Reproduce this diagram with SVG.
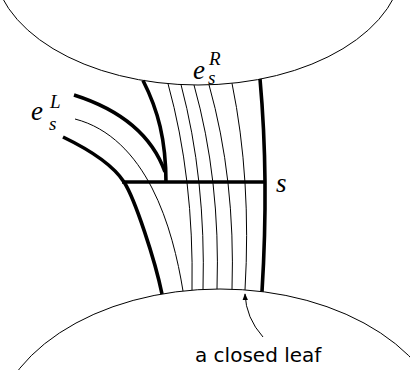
<svg xmlns="http://www.w3.org/2000/svg" width="410" height="370" viewBox="0 0 410 370">
<style>
.bd{fill:none;stroke:#000;stroke-width:1}
.thick{fill:none;stroke:#000;stroke-width:3.6;stroke-linecap:butt}
.thin{fill:none;stroke:#000;stroke-width:1}
.math{font-family:"Liberation Serif","DejaVu Serif",serif;font-style:italic;fill:#000}
.lbl{font-family:"DejaVu Sans","Liberation Sans",sans-serif;fill:#000}
</style>
<defs>
<marker id="ah" viewBox="0 0 10 10" refX="9" refY="5" markerWidth="7" markerHeight="7" markerUnits="userSpaceOnUse" orient="auto">
<path d="M0,1 L10,5 L0,9 Z" fill="#000"/>
</marker>
</defs>
<rect width="410" height="370" fill="#fff"/>
<g id="top-region">
<ellipse class="bd" cx="198" cy="-39" rx="205" ry="124"/>
</g>
<g id="bottom-region">
<ellipse class="bd" cx="220" cy="439" rx="227" ry="150"/>
</g>
<g id="connectors">
<path class="thin" d="M168,83.7 Q194,178 192,290"/>
<path class="thin" d="M181,84.6 Q206,179 203,289.6"/>
<path class="thin" d="M194,85 Q220.5,179.5 217,289"/>
<path class="thin" d="M209,84.8 Q235.5,179 232,289.2"/>
<path class="thin" d="M232,83.3 Q251.5,179 245,289.9"/>
<path class="thin" d="M75,119 C110,128 135,155 152,188 S178,260 183,291"/>
<path class="thick" d="M143,80.5 C158,110 166,140 166,183"/>
<path class="thick" d="M74,95 C115,108 150,130 165,172"/>
<path class="thick" d="M63,137 C90,150 113,165 124,182 S155,260 162,294"/>
<path class="thick" d="M260,78.8 Q269,178.5 262,291.6"/>
<path class="thick" d="M122,182 L264,182"/>
<path class="thin" d="M263,337 Q246,318 245,294" marker-end="url(#ah)"/>
</g>
<g id="label-eR">
<text class="math" x="193" y="79" font-size="27">e</text>
<text class="math" x="209" y="65" font-size="19">R</text>
<text class="math" x="208" y="84" font-size="19">s</text>
</g>
<g id="label-eL">
<text class="math" x="31" y="120" font-size="27">e</text>
<text class="math" x="50" y="108" font-size="19">L</text>
<text class="math" x="49" y="130" font-size="19">s</text>
</g>
<g id="label-s">
<text class="math" x="276" y="192" font-size="27">s</text>
</g>
<g id="label-leaf">
<text class="lbl" x="195" y="362" font-size="20">a closed leaf</text>
</g>
</svg>
